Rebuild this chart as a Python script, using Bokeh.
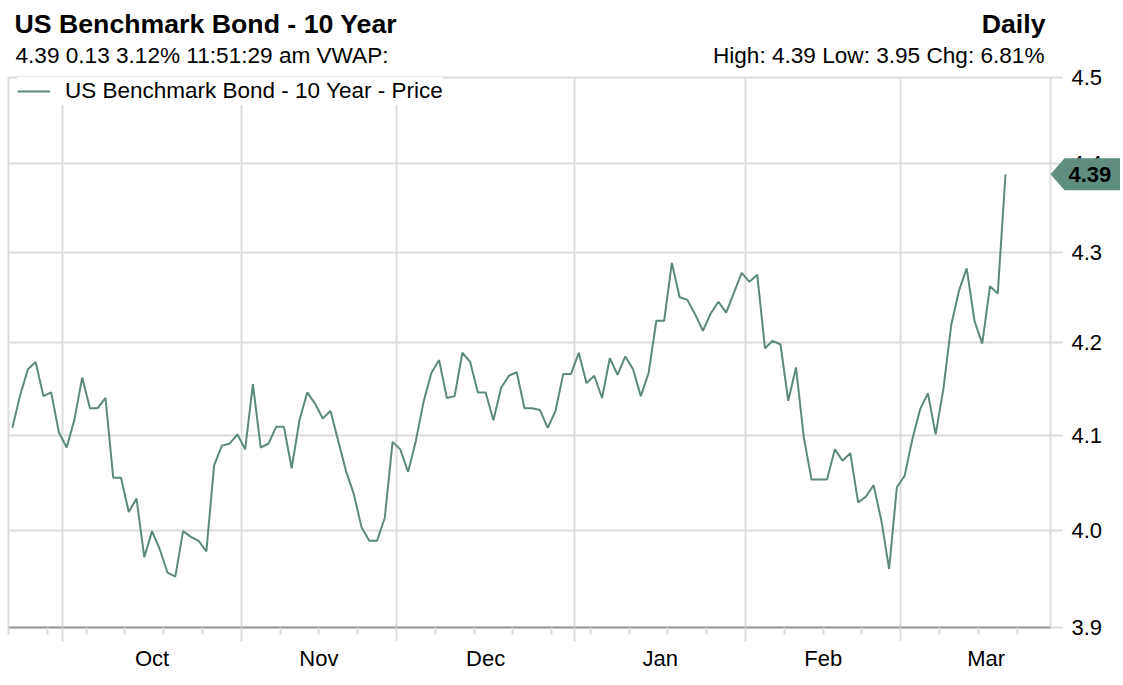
import numpy as np
import pandas as pd
from bokeh.plotting import figure
from bokeh.layouts import column
from bokeh.models import (Range1d, FixedTicker, LinearAxis, Label, Legend, LegendItem,
                          NumeralTickFormatter)
from bokeh.embed import file_html
from bokeh.resources import INLINE

# ---------------- data ----------------
price = [4.108, 4.143, 4.171, 4.179, 4.142, 4.146, 4.103, 4.087, 4.117, 4.162,
         4.129, 4.129, 4.140, 4.055, 4.055, 4.019, 4.033, 3.972, 3.999, 3.980,
         3.956, 3.952, 3.999, 3.993, 3.989, 3.978, 4.068, 4.089, 4.091, 4.101,
         4.085, 4.155, 4.087, 4.091, 4.109, 4.109, 4.065, 4.116, 4.146, 4.134,
         4.118, 4.126, 4.094, 4.062, 4.038, 4.003, 3.989, 3.989, 4.013, 4.093,
         4.085, 4.061, 4.094, 4.136, 4.167, 4.181, 4.140, 4.142, 4.189, 4.179,
         4.146, 4.146, 4.116, 4.151, 4.164, 4.168, 4.129, 4.129, 4.127, 4.108,
         4.126, 4.166, 4.166, 4.189, 4.156, 4.164, 4.140, 4.183, 4.165, 4.185,
         4.171, 4.142, 4.167, 4.224, 4.224, 4.288, 4.250, 4.247, 4.231, 4.213,
         4.232, 4.245, 4.233, 4.255, 4.277, 4.267, 4.275, 4.194, 4.202, 4.198,
         4.137, 4.173, 4.098, 4.053, 4.053, 4.053, 4.085, 4.073, 4.081, 4.029,
         4.035, 4.047, 4.010, 3.960, 4.045, 4.057, 4.096, 4.128, 4.145, 4.101,
         4.150, 4.219, 4.257, 4.282, 4.224, 4.199, 4.262, 4.254, 4.388]
month_labels = ["Oct", "Nov", "Dec", "Jan", "Feb", "Mar"]
y_ticks = [3.9, 4.0, 4.1, 4.2, 4.3, 4.4, 4.5]
first_day = "2025-09-22"
last_axis_day = "2026-03-31"

title_text = "US Benchmark Bond - 10 Year"
sub_text = "4.39 0.13 3.12% 11:51:29 am VWAP:"
period_text = "Daily"
stats_text = "High: 4.39 Low: 3.95 Chg: 6.81%"
legend_text = "US Benchmark Bond - 10 Year - Price"

# ---------------- derived axis positions (trading-day index) ----------------
dates = pd.bdate_range(first_day, last_axis_day)
n_all = len(dates)
month_bounds = [i - 0.5 for i in range(1, n_all) if dates[i].month != dates[i - 1].month]
week_ticks = [i - 0.5 for i in range(n_all)
              if dates[i].weekday() == 0 and (i - 0.5) not in month_bounds]
edges = month_bounds + [n_all - 0.5]
month_centers = [(edges[k] + edges[k + 1]) / 2 for k in range(len(month_bounds))]
xs = list(range(len(price)))

FONT = "Liberation Sans"
LINE = "#5b8a7c"
MARK = "#5f8e80"
GRID = "#dcdcdc"
L, T, FW, FH, R, B = 8, 77, 1042, 550, 70, 53
W, H = L + FW + R, T + FH + B
X0, X1 = -0.5, 133.8
Y0, Y1 = y_ticks[0], y_ticks[-1]

p = figure(frame_width=FW, frame_height=FH,
           x_range=Range1d(X0, X1), y_range=Range1d(Y0, Y1),
           y_axis_type="log", y_axis_location="right",
           output_backend="svg", toolbar_location=None,
           min_border_left=L, min_border_top=T, min_border_right=R, min_border_bottom=B,
           background_fill_color="white", border_fill_color="white")

p.outline_line_color = GRID
p.outline_line_width = 2

# x axis 1: month boundaries (long ticks) + weekly minor ticks, no labels
xa = p.xaxis[0]
xa.ticker = FixedTicker(ticks=month_bounds, minor_ticks=week_ticks)
xa.axis_line_color = "#999999"
xa.axis_line_width = 2
xa.major_tick_line_color = GRID
xa.major_tick_line_width = 2
xa.major_tick_in = 0
xa.major_tick_out = 14
xa.minor_tick_line_color = GRID
xa.minor_tick_line_width = 2
xa.minor_tick_in = 0
xa.minor_tick_out = 7
xa.major_label_text_color = None
xa.major_label_standoff = 0

# x axis 2: month names centred in each month
xa2 = LinearAxis(ticker=FixedTicker(ticks=month_centers),
                 major_label_overrides={c: m for c, m in zip(month_centers, month_labels)},
                 axis_line_color=None, major_tick_line_color=None, minor_tick_line_color=None,
                 major_tick_in=0, major_tick_out=0, major_label_standoff=4,
                 major_label_text_font=FONT, major_label_text_font_size="22px",
                 major_label_text_color="black")
p.add_layout(xa2, "below")

# y axis (log scale, right)
ya = p.yaxis[0]
ya.ticker = FixedTicker(ticks=y_ticks)
ya.formatter = NumeralTickFormatter(format="0.0")
ya.axis_line_color = None
ya.major_tick_line_color = GRID
ya.major_tick_line_width = 2
ya.major_tick_in = 0
ya.major_tick_out = 12
ya.minor_tick_line_color = None
ya.major_label_standoff = 9
ya.major_label_text_font = FONT
ya.major_label_text_font_size = "22px"
ya.major_label_text_color = "black"

p.xgrid.grid_line_color = GRID
p.xgrid.grid_line_width = 2
p.ygrid.grid_line_color = GRID
p.ygrid.grid_line_width = 2

r = p.line(xs, price, line_color=LINE, line_width=2)

legend = Legend(items=[LegendItem(label=legend_text, renderers=[r])],
                location=(9, FH - 28), padding=0, margin=0, border_line_color=None,
                background_fill_color="white", background_fill_alpha=1,
                glyph_width=33, glyph_height=28, label_height=28, label_standoff=15,
                label_text_font=FONT, label_text_font_size="22.5px", label_text_color="black")
p.add_layout(legend)

# ---------------- transparent overlay for header texts and last-value marker ----------------
dx = (X1 - X0) / FW
k = np.log(Y1 / Y0) / FH
ov = figure(width=W, height=H,
            x_range=Range1d(X0 - L * dx, X0 + (W - L) * dx),
            y_range=Range1d(Y0 * np.exp(-B * k), Y1 * np.exp(T * k)),
            y_axis_type="log", x_axis_location=None, y_axis_location=None,
            output_backend="svg", toolbar_location=None, min_border=0,
            background_fill_alpha=0, border_fill_alpha=0, outline_line_color=None,
            margin=(-H, 0, 0, 0))
for fig in (p, ov):
    if "frame_align" in fig.properties():
        fig.frame_align = False
ov.xgrid.visible = False
ov.ygrid.visible = False

hdr = dict(x_units="screen", y_units="screen", text_font=FONT, text_color="black",
           text_baseline="middle")
ov.add_layout(Label(x=14, y=H - 23, text=title_text, text_font_size="26.7px",
                    text_font_style="bold", **hdr))
ov.add_layout(Label(x=1045, y=H - 23, text=period_text, text_font_size="26.7px",
                    text_font_style="bold", text_align="right", **hdr))
ov.add_layout(Label(x=15, y=H - 54.7, text=sub_text, text_font_size="22.6px", **hdr))
ov.add_layout(Label(x=1044, y=H - 54.7, text=stats_text, text_font_size="22.6px",
                    text_align="right", **hdr))

last = price[-1]
top, bot = last * np.exp(16 * k), last * np.exp(-16 * k)
x_right = X0 + (W - L) * dx
ov.patch([X1, X1 + 14 * dx, x_right, x_right, X1 + 14 * dx],
         [last, top, top, bot, bot], fill_color=MARK, line_color=None)
ov.add_layout(Label(x=X1, y=last, x_offset=18, text=f"{last:.2f}", text_font=FONT,
                    text_font_size="22px", text_font_style="bold", text_color="black",
                    text_baseline="middle"))

layout = column(p, ov)
open("out.html", "w").write(file_html(layout, INLINE))
